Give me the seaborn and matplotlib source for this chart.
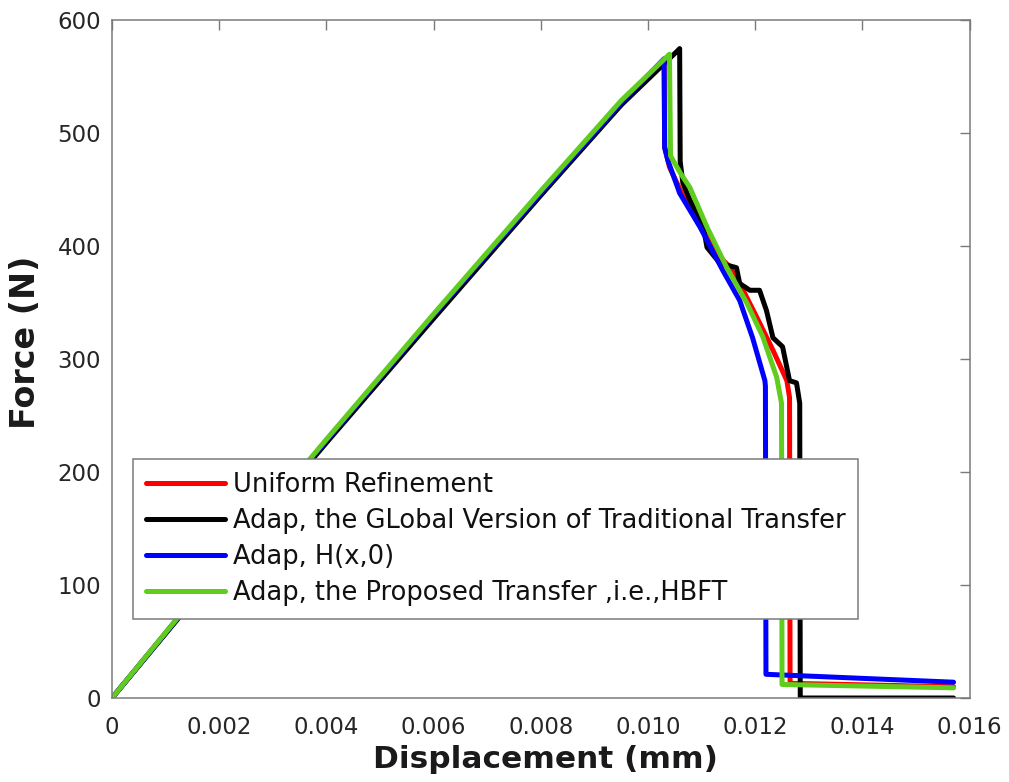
import numpy as np
import pandas as pd
import matplotlib
matplotlib.use("Agg")
import matplotlib.pyplot as plt
import seaborn as sns
from matplotlib.lines import Line2D

# ---------------- data ----------------
labels = [
    "Uniform Refinement",
    "Adap, the GLobal Version of Traditional Transfer",
    "Adap, H(x,0)",
    "Adap, the Proposed Transfer ,i.e.,HBFT",
]
colors = ["#ff0000", "#000000", "#0000ff", "#5fcc1e"]

uniform_x = [0, 0.002, 0.004, 0.006, 0.008, 0.0095, 0.0103, 0.01031, 0.0104, 0.0107,
             0.0110, 0.01125, 0.01139, 0.0115, 0.01171, 0.01203, 0.01233, 0.01259,
             0.01264, 0.01265, 0.0157]
uniform_y = [0, 115, 228, 339, 447, 527, 565, 488, 470, 440, 415, 398, 388, 383, 367,
             337, 308, 281, 266, 13, 10]

global_x = [0, 0.002, 0.004, 0.006, 0.008, 0.0095, 0.01055, 0.01059, 0.0106, 0.01065,
            0.01078, 0.01102, 0.0111, 0.01134, 0.01165, 0.01171, 0.0119, 0.01208,
            0.01221, 0.01233, 0.01251, 0.01264, 0.01277, 0.01283, 0.01284, 0.0157]
global_y = [0, 114, 226, 336, 445, 525, 573, 575, 475, 456, 441, 420, 399, 385, 381,
            367, 361, 361, 343, 319, 311, 281, 279, 261, 0, 0]

h0_x = [0, 0.002, 0.004, 0.006, 0.008, 0.0095, 0.0103, 0.01031, 0.01037, 0.01059,
        0.01097, 0.01139, 0.01171, 0.01195, 0.01218, 0.01219, 0.0122, 0.0157]
h0_y = [0, 115, 228, 339, 447, 527, 566, 487, 476, 447, 417, 379, 352, 319, 281, 276,
        21, 14]

hbft_x = [0, 0.002, 0.004, 0.006, 0.008, 0.0095, 0.0104, 0.01042, 0.0106, 0.01078,
          0.0111, 0.01147, 0.01184, 0.01214, 0.0124, 0.01249, 0.0125, 0.0157]
hbft_y = [0, 116, 229, 340, 449, 529, 570, 480, 465, 452, 417, 381, 350, 320, 284, 261,
          12, 9]

series_x = [uniform_x, global_x, h0_x, hbft_x]
series_y = [uniform_y, global_y, h0_y, hbft_y]

x_ticks = [0, 0.002, 0.004, 0.006, 0.008, 0.010, 0.012, 0.014, 0.016]
x_tick_labels = ["0", "0.002", "0.004", "0.006", "0.008", "0.010", "0.012", "0.014", "0.016"]
y_ticks = [0, 100, 200, 300, 400, 500, 600]

# ---------------- plot ----------------
sns.set_theme(style="white")
plt.rcParams["font.family"] = ["DejaVu Sans"]

fig = plt.figure(figsize=(10.09, 7.82), dpi=100)
ax = fig.add_axes([0.111, 0.1074, 0.85, 0.8666])

for xs, ys, c, lab in zip(series_x, series_y, colors, labels):
    df = pd.DataFrame({"x": xs, "y": ys})
    sns.lineplot(data=df, x="x", y="y", sort=False, estimator=None, color=c,
                 linewidth=3.6, ax=ax, legend=False)

ax.set_xlim(0, 0.016)
ax.set_ylim(0, 600)
ax.set_xticks(x_ticks)
ax.set_xticklabels(x_tick_labels)
ax.set_yticks(y_ticks)
ax.tick_params(axis="both", direction="in", length=7, width=1, color="#7a7a7a",
               labelsize=16.5, labelcolor="#262626", top=True, right=True)
ax.tick_params(axis="x", pad=13)
ax.tick_params(axis="y", pad=8)
for s in ax.spines.values():
    s.set_color("#7a7a7a")
    s.set_linewidth(1.1)
    s.set_visible(True)

ax.set_xlabel("Displacement (mm)", fontsize=22.5, fontweight="bold", color="#1a1a1a")
ax.set_ylabel("Force (N)", fontsize=24, fontweight="bold", color="#1a1a1a")
ax.xaxis.set_label_coords(0.505, -0.070)
ax.yaxis.set_label_coords(-0.082, 0.525)

handles = [Line2D([0], [0], color=c, lw=3.6) for c in colors]
leg = ax.legend(handles, labels, loc="upper left", bbox_to_anchor=(0.0245, 0.352),
                fontsize=18.5, frameon=True, fancybox=False, framealpha=1,
                edgecolor="#7a7a7a", handlelength=3.07, handletextpad=0.31,
                labelspacing=0.39, borderpad=0.5, borderaxespad=0)
leg.get_frame().set_linewidth(1.1)
for t in leg.get_texts():
    t.set_color("#111111")

fig.savefig("out.png", dpi=100)
